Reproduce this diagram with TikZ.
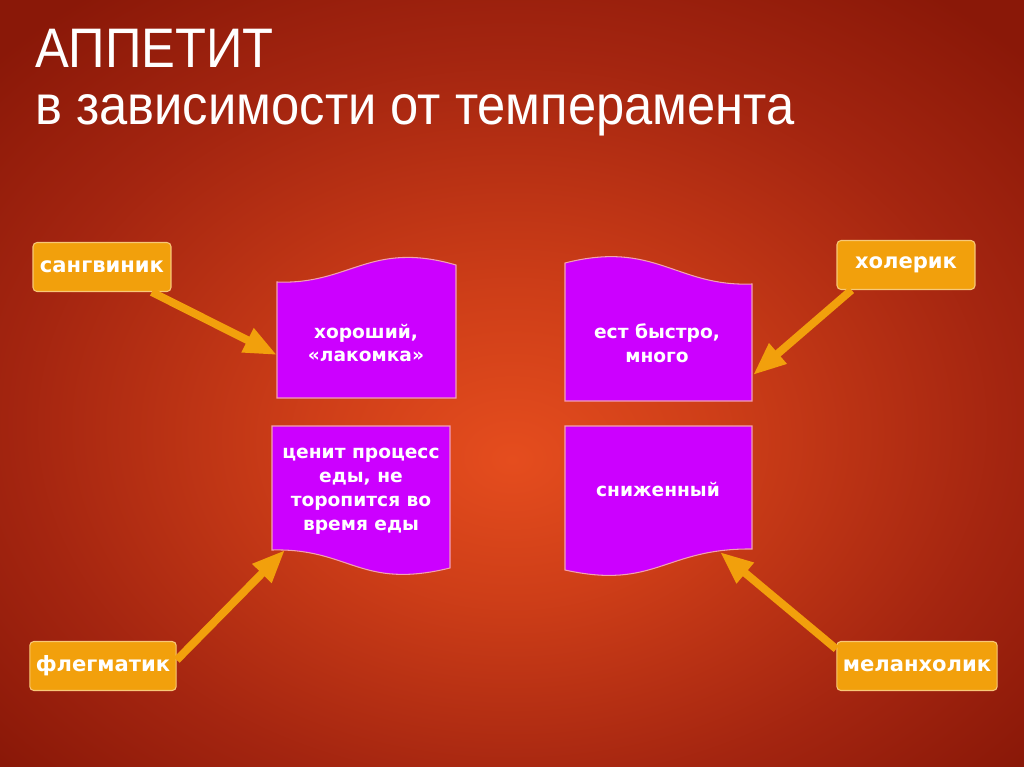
\documentclass[tikz,border=0pt]{standalone}
\usepackage{fontspec}
\setmainfont{DejaVu Sans}
\newfontfamily\titlefont[FakeStretch=0.91]{Liberation Sans}
\usetikzlibrary{arrows.meta}
\definecolor{bgin}{HTML}{E54D1E}
\definecolor{bgmid}{HTML}{CE3E18}
\definecolor{bgout}{HTML}{A42510}
\definecolor{bgdark}{HTML}{8A1808}
\definecolor{docpurple}{HTML}{CC00FF}
\definecolor{docedge}{HTML}{F2A0B0}
\definecolor{tempfill}{HTML}{F2A00C}
\definecolor{tempedge}{HTML}{F8C878}
\pgfdeclareradialshading{slidebg}{\pgfpoint{0bp}{-5bp}}{color(0bp)=(bgin); color(10bp)=(bgmid); color(24bp)=(bgout); color(34bp)=(bgdark); color(50bp)=(bgdark)}

\begin{document}
\begin{tikzpicture}[x=0.02cm,y=-0.02cm,
  heading/.style={anchor=base west,inner sep=0pt,text=white,font=\titlefont\fontsize{31.7}{38}\selectfont},
  docbox/.style={fill=docpurple,draw=docedge,line width=0.6pt},
  doctext/.style={text=white,align=center,font=\bfseries\fontsize{10.6}{13.6}\selectfont},
  temp/.style={rounded corners=0.08cm,fill=tempfill,draw=tempedge,line width=0.6pt,text=white,
    font=\bfseries\fontsize{12}{14}\selectfont,inner sep=0.12cm,minimum width=2.76cm,minimum height=0.98cm},
  arr/.style={draw=tempfill,line width=4.5pt,-{Triangle[length=0.66cm,width=0.5cm]}}]
  \shade[shading=slidebg] (0,0) rectangle (1024,767);
  \node[heading] (title) at (35,68) {АППЕТИТ};
  \node[heading] (subtitle) at (35,125) {в зависимости от темперамента};
  \filldraw[docbox] (277,282) .. controls (350,285) and (370,240) .. (456,265) -- (456,398) -- (277,398) -- cycle;
  \filldraw[docbox] (565,263) .. controls (655,240) and (676,287) .. (752,284) -- (752,401) -- (565,401) -- cycle;
  \filldraw[docbox] (272,426) -- (450,426) -- (450,568) .. controls (360,590) and (350,548) .. (272,550) -- cycle;
  \filldraw[docbox] (565,426) -- (752,426) -- (752,549) .. controls (665,548) and (655,590) .. (565,570) -- cycle;
  \node[doctext] (good) at (366,343) {хороший,\\«лакомка»};
  \node[doctext] (fast) at (657,343) {ест быстро,\\много};
  \node[doctext] (slow) at (361,491) {ценит процесс\\еды, не\\торопится во\\время еды};
  \node[doctext] (low) at (658,490) {сниженный};
  \node[temp] (sang) at (102,267) {сангвиник};
  \node[temp] (chol) at (906,265) {холерик};
  \node[temp] (phleg) at (103,666) {флегматик};
  \node[temp] (mel) at (917,666) {меланхолик};
  \coordinate (tsang) at (277,355);
  \coordinate (tchol) at (753,375);
  \coordinate (tphleg) at (285,550);
  \coordinate (tmel) at (720,552);
  \draw[arr] (sang) -- (tsang);
  \draw[arr] ([xshift=0.3cm]chol.south west) -- (tchol);
  \draw[arr] ([yshift=0.12cm]phleg.east) -- (tphleg);
  \draw[arr] ([yshift=-0.16cm]mel.north west) -- (tmel);
\end{tikzpicture}
\end{document}
